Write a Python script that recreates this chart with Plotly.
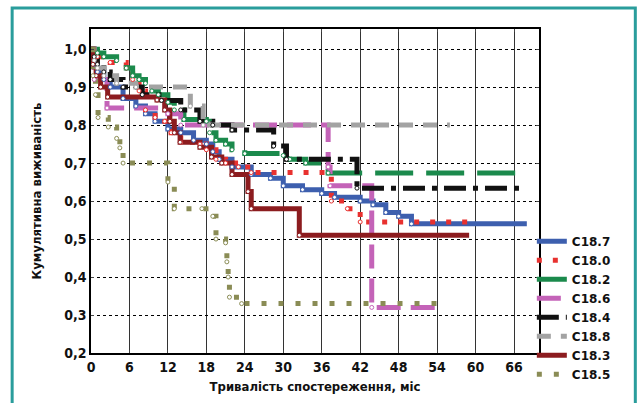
import plotly.graph_objects as go

# ---- data ----
x_ticks = [0, 6, 12, 18, 24, 30, 36, 42, 48, 54, 60, 66]
y_ticks = [0.2, 0.3, 0.4, 0.5, 0.6, 0.7, 0.8, 0.9, 1.0]

c187_t = [0, 0.5, 1, 2, 3, 5, 7, 8.5, 10, 12, 14, 16, 18, 19, 20, 22, 25, 28, 30, 33, 36, 38, 42, 44, 46, 48, 50, 68]
c187_s = [1.0, 0.96, 0.94, 0.92, 0.90, 0.87, 0.85, 0.83, 0.81, 0.79, 0.78, 0.76, 0.75, 0.73, 0.71, 0.69, 0.67, 0.66, 0.64, 0.63, 0.62, 0.61, 0.60, 0.59, 0.57, 0.56, 0.54, 0.54]

c180_t = [0, 1, 3, 5.5, 6.5, 7.5, 8.5, 10, 11.5, 12.5, 14, 17, 18, 19.5, 21, 23, 25, 37.5, 40, 42, 59]
c180_s = [1.0, 0.98, 0.965, 0.95, 0.92, 0.89, 0.84, 0.82, 0.81, 0.78, 0.755, 0.75, 0.735, 0.71, 0.70, 0.69, 0.675, 0.60, 0.58, 0.545, 0.545]

c182_t = [0, 1, 2, 4, 5.5, 6.5, 7.5, 8.5, 9.5, 10.5, 12, 13, 14.5, 18, 18.5, 19.5, 21, 22, 24, 30, 31, 33.5, 37, 67]
c182_s = [1.0, 0.99, 0.98, 0.97, 0.95, 0.93, 0.92, 0.91, 0.89, 0.88, 0.86, 0.84, 0.815, 0.81, 0.78, 0.76, 0.75, 0.735, 0.725, 0.72, 0.71, 0.70, 0.674, 0.674]

c186_t = [0, 0.5, 2.5, 12, 14, 37, 37.3, 43.8, 54]
c186_s = [1.0, 0.92, 0.845, 0.83, 0.80, 0.69, 0.64, 0.32, 0.32]

c184_t = [0, 0.5, 1, 2, 3, 5, 8, 11, 14, 17, 19, 22, 28.5, 30.5, 41.5, 67.5]
c184_s = [1.0, 0.98, 0.96, 0.94, 0.92, 0.90, 0.88, 0.865, 0.84, 0.81, 0.80, 0.787, 0.745, 0.71, 0.634, 0.634]

c188_t = [0, 0.5, 1, 2, 4, 7, 15.5, 17.5, 56]
c188_s = [1.0, 0.97, 0.95, 0.93, 0.91, 0.90, 0.85, 0.80, 0.80]

c183_t = [0, 0.3, 0.8, 1.5, 2.6, 10.3, 11.5, 12.3, 13, 13.9, 17, 18.8, 20.4, 22, 24.5, 25, 32.5, 59]
c183_s = [1.0, 0.96, 0.93, 0.90, 0.874, 0.866, 0.84, 0.81, 0.78, 0.755, 0.742, 0.716, 0.70, 0.67, 0.625, 0.58, 0.51, 0.51]

c185_t = [0, 0.3, 0.7, 1.1, 2.7, 4, 4.5, 5, 12, 13, 17.3, 19, 19.5, 21, 21.2, 21.4, 21.6, 23.5, 54]
c185_s = [1.0, 0.93, 0.88, 0.82, 0.795, 0.765, 0.74, 0.70, 0.65, 0.58, 0.58, 0.56, 0.50, 0.49, 0.44, 0.40, 0.347, 0.33, 0.33]

series = [
    ("C18.7", c187_t, c187_s, "#3d5fae", "solid"),
    ("C18.0", c180_t, c180_s, "#e8312f", "5px,11px"),
    ("C18.2", c182_t, c182_s, "#1b8a4c", "38px,13px"),
    ("C18.6", c186_t, c186_s, "#c463b8", "24px,10px"),
    ("C18.4", c184_t, c184_s, "#111111", "22px,7px,5px,7px"),
    ("C18.8", c188_t, c188_s, "#a3a3a3", "14px,10px"),
    ("C18.3", c183_t, c183_s, "#8c1c1f", "solid"),
    ("C18.5", c185_t, c185_s, "#8a8c55", "5px,12px"),
]

FONT = "DejaVu Sans Condensed, Roboto, sans-serif"

fig = go.Figure()
for name, t, s, col, dash in series:
    fig.add_trace(go.Scatter(
        x=t, y=s, name=name, mode="lines", line_shape="hv",
        line=dict(color=col, width=5, dash=dash),
    ))
for name, t, s, col, dash in series:
    fig.add_trace(go.Scatter(
        x=t[1:-1], y=s[1:-1], mode="markers", showlegend=False, hoverinfo="skip",
        marker=dict(symbol="circle", size=4, color="white", line=dict(color=col, width=1)),
    ))

fig.update_layout(
    width=638, height=403,
    margin=dict(l=91, r=99, t=29, b=50),
    paper_bgcolor="white", plot_bgcolor="white",
    separators=", ",
    font=dict(family=FONT, size=14, color="#111"),
    showlegend=True,
    legend=dict(
        x=0.984, xanchor="left", y=0.39, yanchor="top",
        font=dict(family="DejaVu Sans, sans-serif", size=12, color="#111", weight="bold"),
        tracegroupgap=0, itemwidth=30, bgcolor="rgba(0,0,0,0)",
    ),
    xaxis=dict(
        range=[0, 69.9], tickvals=x_ticks, ticks="inside", ticklen=3,
        showline=True, linecolor="black", linewidth=1.5, mirror="ticks",
        showgrid=True, gridcolor="#333", gridwidth=1, zeroline=False,
        tickfont=dict(family=FONT, size=14, weight="bold"),
        title=dict(text="Тривалість спостереження, міс", standoff=8,
                   font=dict(family=FONT, size=13, weight="bold")),
    ),
    yaxis=dict(
        range=[0.2, 1.053], tickvals=y_ticks, tickformat=".1f", ticks="inside", ticklen=3,
        showline=True, linecolor="black", linewidth=1.5, mirror="ticks",
        showgrid=True, gridcolor="black", gridwidth=1, griddash="dot", zeroline=False,
        tickfont=dict(family=FONT, size=14, weight="bold"),
        title=dict(text="Кумулятивна виживаність", standoff=20,
                   font=dict(family=FONT, size=13, weight="bold")),
    ),
    shapes=[dict(type="rect", xref="paper", yref="paper",
                 x0=-0.176, x1=1.215, y0=-0.2, y1=1.065,
                 line=dict(color="#2a9d9c", width=3), fillcolor="rgba(0,0,0,0)", layer="below")],
)

fig.write_html("out.html", config={"displayModeBar": False},
               post_script="document.body.style.margin='0';")
